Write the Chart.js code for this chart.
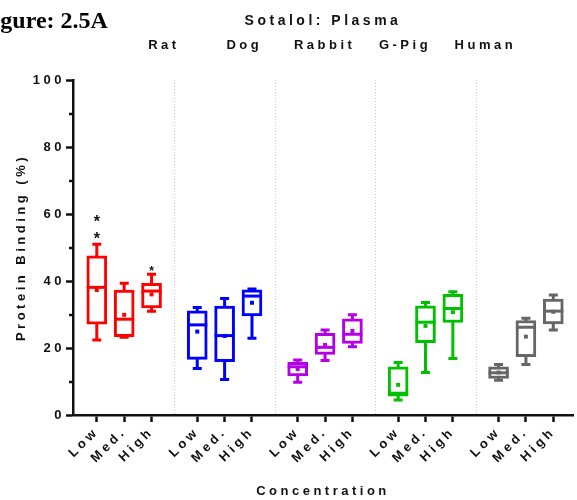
<!DOCTYPE html>
<html>
<head>
<meta charset="utf-8">
<script src="https://cdn.jsdelivr.net/npm/chart.js@4.4.0/dist/chart.umd.min.js"></script>
<style>
  html, body { margin: 0; padding: 0; background: #fff; }
  #grafico { display: block; }
</style>
</head>
<body>
<canvas id="grafico" width="577" height="500"></canvas>
<script>
const species = ['Rat', 'Dog', 'Rabbit', 'G-Pig', 'Human'];
const levels = ['Low', 'Med.', 'High'];
const speciesColors = ['#ff0000', '#0000ff', '#b400e6', '#00c000', '#666666'];
const yTicks = [0, 20, 40, 60, 80, 100];

// one entry per box: Rat Low, Rat Med., Rat High, Dog Low, ... Human High
const mins    = [22.4, 23.2, 31.0, 13.9, 10.6, 22.9,  9.8, 16.3, 20.4,  4.5, 12.7, 16.9, 10.4, 15.1, 25.4];
const q1s     = [27.1, 23.4, 32.0, 16.6, 15.9, 29.6, 11.7, 18.1, 21.4,  5.6, 21.6, 27.6, 10.9, 17.4, 27.2];
const medians = [38.1, 28.6, 37.0, 26.9, 23.7, 35.5, 14.4, 20.2, 24.1,  6.5, 27.7, 31.8, 12.6, 26.2, 31.0];
const q3s     = [47.5, 37.3, 39.3, 31.1, 32.5, 37.4, 15.7, 24.4, 28.7, 14.4, 32.6, 36.0, 14.4, 28.2, 34.6];
const maxs    = [51.0, 39.3, 42.0, 32.1, 34.8, 37.6, 16.4, 25.4, 29.9, 15.7, 33.6, 36.8, 15.1, 28.9, 35.8];
const means   = [37.3, 29.9, 36.0, 24.9, 23.6, 33.5, 13.7, 20.9, 25.1,  9.0, 26.6, 30.7, 12.7, 23.4, 30.8];
const stars   = ['**', '', '*', '', '', '', '', '', '', '', '', '', '', '', ''];

const groupStep = 3.67;
const font = '"Liberation Sans", Arial, sans-serif';

function boxPos(i) {
  return Math.floor(i / 3) * groupStep + (i % 3);
}

function boxColor(i) {
  return speciesColors[Math.floor(i / 3)];
}

const positions = mins.map((v, i) => boxPos(i));
const groupCenters = species.map((s, g) => g * groupStep + 1);
const colors = mins.map((v, i) => boxColor(i));

const spacing = {
  id: 'spacing',
  beforeLayout(chart) { chart.ctx.letterSpacing = '3.5px'; },
  beforeDraw(chart) { chart.ctx.letterSpacing = '3.5px'; }
};

const boxExtras = {
  id: 'boxExtras',
  beforeDatasetsDraw(chart) {
    const { ctx, chartArea } = chart;
    const x = chart.scales.x, y = chart.scales.y;
    ctx.save();
    ctx.strokeStyle = '#c8c8c8';
    ctx.lineWidth = 1;
    ctx.setLineDash([1, 2]);
    for (let g = 1; g < species.length; g++) {
      const px = Math.round(x.getPixelForValue(g * groupStep - (groupStep - 2) / 2)) + 0.5;
      ctx.beginPath();
      ctx.moveTo(px, chartArea.top);
      ctx.lineTo(px, chartArea.bottom);
      ctx.stroke();
    }
    ctx.setLineDash([]);
    ctx.lineWidth = 3;
    mins.forEach((mn, i) => {
      const px = x.getPixelForValue(positions[i]);
      const yMin = y.getPixelForValue(mn);
      const yMax = y.getPixelForValue(maxs[i]);
      ctx.strokeStyle = colors[i];
      ctx.beginPath();
      ctx.moveTo(px, yMin); ctx.lineTo(px, yMax);
      ctx.moveTo(px - 4.5, yMin); ctx.lineTo(px + 4.5, yMin);
      ctx.moveTo(px - 4.5, yMax); ctx.lineTo(px + 4.5, yMax);
      ctx.stroke();
    });
    ctx.restore();
  },
  afterDatasetsDraw(chart) {
    const { ctx } = chart;
    const x = chart.scales.x, y = chart.scales.y;
    ctx.save();
    ctx.lineWidth = 3;
    medians.forEach((m, i) => {
      const px = x.getPixelForValue(positions[i]);
      const py = y.getPixelForValue(m);
      ctx.strokeStyle = colors[i];
      ctx.beginPath();
      ctx.moveTo(px - 10, py);
      ctx.lineTo(px + 10, py);
      ctx.stroke();
    });
    ctx.fillStyle = '#111';
    ctx.textAlign = 'center';
    ctx.textBaseline = 'middle';
    ctx.letterSpacing = '0px';
    stars.forEach((s, i) => {
      if (!s) return;
      const px = x.getPixelForValue(positions[i]);
      const top = y.getPixelForValue(maxs[i]);
      ctx.font = 'bold ' + (s.length > 1 ? 16 : 12) + 'px ' + font;
      for (let k = 0; k < s.length; k++) {
        ctx.fillText('*', px, top - 5 - k * 17 + (s.length > 1 ? 0 : 2));
      }
    });
    ctx.restore();
  },
  afterDraw(chart) {
    const { ctx, chartArea } = chart;
    const y = chart.scales.y;
    ctx.save();
    ctx.strokeStyle = '#111';
    ctx.lineWidth = 2.5;
    for (let v = 10; v < 100; v += 20) {
      const py = Math.round(y.getPixelForValue(v));
      ctx.beginPath();
      ctx.moveTo(chartArea.left - 4, py);
      ctx.lineTo(chartArea.left, py);
      ctx.stroke();
    }
    ctx.letterSpacing = '0px';
    ctx.fillStyle = '#000';
    ctx.font = 'bold 24px "Liberation Serif", "Times New Roman", serif';
    ctx.textAlign = 'left';
    ctx.textBaseline = 'alphabetic';
    ctx.fillText('Figure: 2.5A', -21, 28);
    ctx.restore();
  }
};

Chart.defaults.font.family = font;
Chart.defaults.color = '#111';

new Chart(document.getElementById('grafico'), {
  type: 'bar',
  data: {
    datasets: [{
      type: 'scatter',
      data: positions.map((px, i) => ({ x: px, y: means[i] })),
      pointStyle: 'rect',
      pointRadius: 2.8,
      pointBorderWidth: 0,
      pointBackgroundColor: colors,
      order: 0
    }, {
      data: positions.map((px, i) => ({ x: px, y: [q1s[i], q3s[i]] })),
      backgroundColor: '#ffffff',
      borderColor: colors,
      borderWidth: 3,
      borderSkipped: false,
      barThickness: 20,
      order: 1
    }]
  },
  options: {
    responsive: false,
    animation: false,
    devicePixelRatio: 1,
    layout: { padding: 0 },
    plugins: { legend: { display: false }, tooltip: { enabled: false } },
    scales: {
      x: {
        type: 'linear',
        position: 'bottom',
        min: -0.87,
        max: 4 * groupStep + 2.72,
        bounds: 'data',
        offset: false,
        afterBuildTicks(scale) { scale.ticks = positions.map(v => ({ value: v })); },
        afterFit(scale) { scale.height = 85; },
        grid: { offset: false, drawOnChartArea: false, drawTicks: true, tickLength: 7, tickWidth: 2.5, tickColor: '#111' },
        border: { display: true, color: '#111', width: 2.5 },
        ticks: {
          autoSkip: false,
          minRotation: 45,
          maxRotation: 45,
          padding: 2,
          font: { size: 13, weight: 'bold' },
          callback: (v, idx) => levels[idx % 3]
        },
        title: { display: true, text: 'Concentration', font: { size: 13, weight: 'bold' }, padding: { top: 0, bottom: 1 } }
      },
      x2: {
        type: 'linear',
        position: 'top',
        min: -0.87,
        max: 4 * groupStep + 2.72,
        bounds: 'data',
        afterBuildTicks(scale) { scale.ticks = groupCenters.map(v => ({ value: v })); },
        afterFit(scale) { scale.height = 80; },
        grid: { display: false, drawTicks: false },
        border: { display: false },
        ticks: {
          autoSkip: false,
          maxRotation: 0,
          padding: 27,
          font: { size: 13, weight: 'bold' },
          callback: (v, idx) => species[idx]
        },
        title: { display: true, text: 'Sotalol: Plasma', font: { size: 14, weight: 'bold' }, padding: { top: 13, bottom: 0 } }
      },
      y: {
        min: 0,
        max: 100,
        afterBuildTicks(scale) { scale.ticks = yTicks.map(v => ({ value: v })); },
        afterFit(scale) { scale.width = 73; },
        grid: { drawOnChartArea: false, drawTicks: true, tickLength: 7, tickWidth: 2.5, tickColor: '#111' },
        border: { display: true, color: '#111', width: 2.5 },
        ticks: { padding: 1, font: { size: 13, weight: 'bold' } },
        title: { display: true, text: 'Protein Binding (%)', font: { size: 13, weight: 'bold' }, padding: { top: 14, bottom: 0 } }
      }
    }
  },
  plugins: [spacing, boxExtras]
});
</script>
</body>
</html>
